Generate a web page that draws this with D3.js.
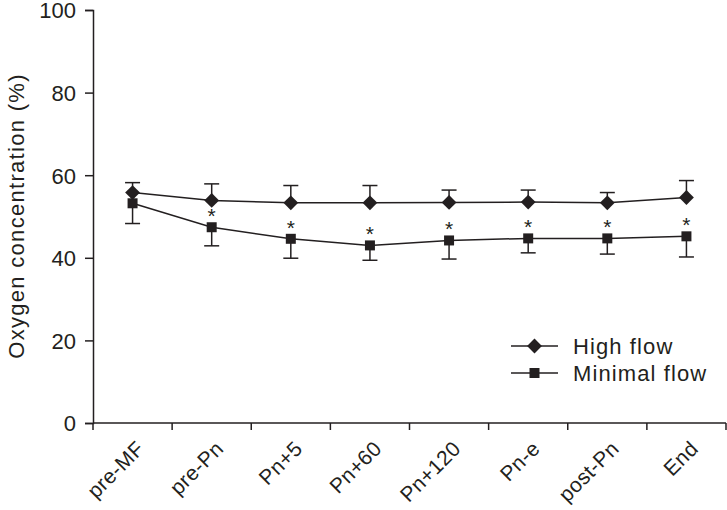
<!DOCTYPE html>
<html><head><meta charset="utf-8">
<script src="https://cdn.jsdelivr.net/npm/d3@7"></script>
<style>body{margin:0;background:#fff;} text{font-family:Arial,"Liberation Sans",sans-serif;fill:#231f20;}</style>
</head><body>
<svg id="c" width="727" height="510"></svg>
<script>
const categories = ["pre-MF","pre-Pn","Pn+5","Pn+60","Pn+120","Pn-e","post-Pn","End"];
const highFlow = [55.8, 53.9, 53.3, 53.3, 53.4, 53.5, 53.3, 54.6];
const highFlowErr = [2.4, 4.0, 4.2, 4.2, 3.0, 2.9, 2.5, 4.1];
const minimalFlow = [53.2, 47.4, 44.6, 43.0, 44.2, 44.7, 44.7, 45.2];
const minimalFlowErr = [4.9, 4.5, 4.7, 3.6, 4.5, 3.5, 3.8, 5.0];
const significant = [false, true, true, true, true, true, true, true];
const yTicks = [0, 20, 40, 60, 80, 100];
const seriesNames = ["High flow", "Minimal flow"];

const ink = "#231f20";
const FONT = "Arial, 'Liberation Sans', sans-serif";
const svg = d3.select("#c");
const x = d3.scaleBand().domain(categories).range([93, 726]);
const y = d3.scaleLinear().domain([0, 100]).range([423, 10]);

// y axis
const ya = svg.append("g").attr("transform","translate(93,0)")
  .call(d3.axisLeft(y).tickValues(yTicks).tickSize(8).tickPadding(9));
ya.select(".domain").attr("stroke", ink).attr("stroke-width",1.5);
ya.selectAll(".tick line").attr("stroke", ink).attr("stroke-width",1.5);
ya.selectAll(".tick text").attr("font-size",22)
  .attr("fill",ink).attr("font-family",FONT).attr("dy","0.36em");

// x axis with ticks at band edges
const xa = svg.append("g").attr("transform","translate(0,423)");
xa.append("line").attr("x1",93).attr("x2",726).attr("stroke",ink).attr("stroke-width",1.5);
const edges = categories.map(c => x(c)).concat([x.range()[1]]);
xa.selectAll("line.t").data(edges).join("line").attr("class","t")
  .attr("x1",d=>d).attr("x2",d=>d).attr("y1",0).attr("y2",7).attr("stroke",ink).attr("stroke-width",1.5);
xa.selectAll("text.l").data(categories).join("text").attr("class","l")
  .attr("transform", d => `translate(${x(d)+x.bandwidth()/2+13},${27}) rotate(-45)`)
  .attr("text-anchor","end").attr("font-size",21).attr("letter-spacing","0.4px").text(d=>d);

// y label
svg.append("text").attr("transform","translate(24,216) rotate(-90)")
  .attr("text-anchor","middle").attr("font-size",22).attr("letter-spacing","1.3px")
  .text("Oxygen concentration (%)");

const cx = d => x(d) + x.bandwidth()/2;
const line = d3.line().x(d=>cx(d.c)).y(d=>y(d.v));

const hi = categories.map((c,i)=>({c, v:highFlow[i], e:highFlowErr[i]}));
const mi = categories.map((c,i)=>({c, v:minimalFlow[i], e:minimalFlowErr[i], s:significant[i]}));

function errBars(data, dir){
  const g = svg.append("g").attr("stroke",ink).attr("stroke-width",1.5);
  data.forEach(d=>{
    const y0 = y(d.v), y1 = y(d.v + dir*d.e);
    g.append("line").attr("x1",cx(d.c)).attr("x2",cx(d.c)).attr("y1",y0).attr("y2",y1);
    g.append("line").attr("x1",cx(d.c)-7.5).attr("x2",cx(d.c)+7.5).attr("y1",y1).attr("y2",y1);
  });
}
errBars(mi, -1);
errBars(hi, 1);

svg.append("path").datum(mi).attr("d",line).attr("fill","none").attr("stroke",ink).attr("stroke-width",1.5);
svg.append("path").datum(hi).attr("d",line).attr("fill","none").attr("stroke",ink).attr("stroke-width",1.5);

const diamond = d3.symbol().type(d3.symbolDiamond2).size(140);
const square = d3.symbol().type(d3.symbolSquare).size(100);
svg.selectAll("path.sq").data(mi).join("path").attr("class","sq")
  .attr("d", square())
  .attr("transform", d=>`translate(${cx(d.c)},${y(d.v)})`).attr("fill",ink);
svg.selectAll("path.dm").data(hi).join("path").attr("class","dm")
  .attr("d", diamond())
  .attr("transform", d=>`translate(${cx(d.c)},${y(d.v)})`).attr("fill",ink);

// significance stars
svg.selectAll("text.star").data(mi.filter(d=>d.s)).join("text").attr("class","star")
  .attr("x", d=>cx(d.c)).attr("y", d=>y(d.v)-4).attr("text-anchor","middle")
  .attr("font-size",21).text("*");

// legend
const leg = svg.append("g");
seriesNames.forEach((n,i)=>{
  const ly = 346 + i*27;
  leg.append("line").attr("x1",511).attr("x2",558).attr("y1",ly).attr("y2",ly).attr("stroke",ink).attr("stroke-width",1.5);
  leg.append("path").attr("d", i===0 ? diamond() : square())
    .attr("transform",`translate(534.5,${ly})`).attr("fill",ink);
  leg.append("text").attr("x",573).attr("y",ly).attr("dy","0.36em").attr("font-size",22)
    .attr("letter-spacing","1.1px").text(n);
});
</script>
</body></html>
